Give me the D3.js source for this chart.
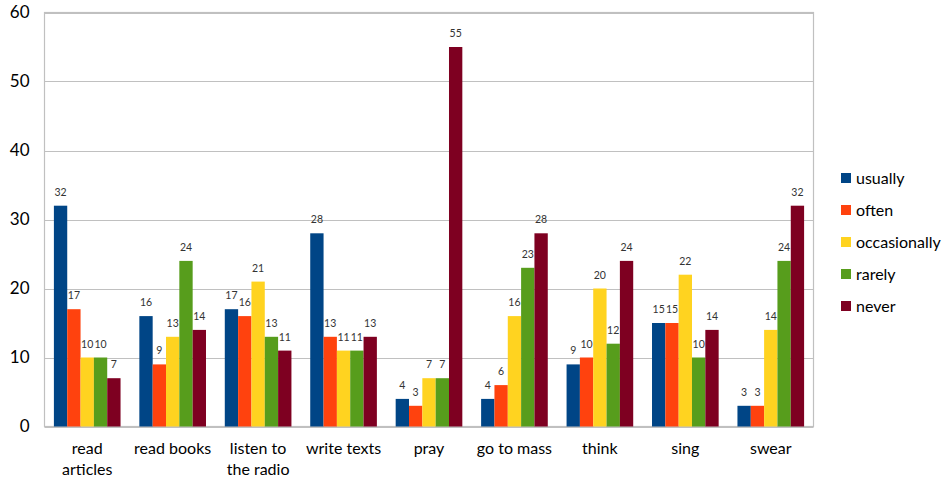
<!DOCTYPE html>
<html>
<head>
<meta charset="utf-8">
<script src="https://cdn.jsdelivr.net/npm/d3@7"></script>
<style>
  html, body { margin: 0; padding: 0; background: #fff; }
  svg { display: block; font-family: Lato, "Open Sans", sans-serif; }
</style>
</head>
<body>
<svg id="chart" width="946" height="481"></svg>
<script>
// Activities (x-axis categories), with line breaks for the axis labels
const categories = ["read articles", "read books", "listen to the radio", "write texts", "pray", "go to mass", "think", "sing", "swear"];
const categoryLines = [["read", "articles"], ["read books"], ["listen to", "the radio"], ["write texts"], ["pray"], ["go to mass"], ["think"], ["sing"], ["swear"]];

// Frequency series
const seriesNames = ["usually", "often", "occasionally", "rarely", "never"];
const usually      = [32, 16, 17, 28, 4, 4, 9, 15, 3];
const often        = [17, 9, 16, 13, 3, 6, 10, 15, 3];
const occasionally = [10, 13, 21, 11, 7, 16, 20, 22, 14];
const rarely       = [10, 24, 13, 11, 7, 23, 12, 10, 24];
const never        = [7, 14, 11, 13, 55, 28, 24, 14, 32];
const seriesValues = [usually, often, occasionally, rarely, never];
const colors = ["#004586", "#ff420e", "#ffd320", "#579d1c", "#7e0021"];

const yTicks = [0, 10, 20, 30, 40, 50, 60];

const svg = d3.select("#chart");
const plot = { left: 44.5, right: 813.5, top: 12.5, bottom: 426.5 };

const x0 = d3.scaleBand().domain(categories).range([plot.left, plot.right]).paddingInner(0.22).paddingOuter(0.11);
const x1 = d3.scaleBand().domain(seriesNames).range([0, x0.bandwidth()]);
const y = d3.scaleLinear().domain([0, 60]).range([plot.bottom, plot.top]);

// Horizontal gridlines
svg.append("g")
  .selectAll("line")
  .data(yTicks)
  .join("line")
  .attr("x1", plot.left).attr("x2", plot.right)
  .attr("y1", d => Math.round(y(d)) + 0.5).attr("y2", d => Math.round(y(d)) + 0.5)
  .attr("stroke", "#c0c0c0").attr("stroke-width", 1.2);

// Plot frame
svg.append("rect")
  .attr("x", plot.left).attr("y", plot.top)
  .attr("width", plot.right - plot.left).attr("height", plot.bottom - plot.top)
  .attr("fill", "none").attr("stroke", "#c0c0c0").attr("stroke-width", 1.2);

// Y axis labels
const yAxis = d3.axisLeft(y).tickValues(yTicks).tickSize(0).tickPadding(15);
const yg = svg.append("g").attr("transform", `translate(${plot.left},0)`).call(yAxis);
yg.select(".domain").remove();
yg.selectAll("text").attr("font-size", 17).attr("fill", "#000").attr("font-family", "Lato, sans-serif");

// Bars
const groups = svg.append("g")
  .selectAll("g")
  .data(categories)
  .join("g")
  .attr("transform", d => `translate(${x0(d)},0)`);

groups.selectAll("rect")
  .data((c, i) => seriesNames.map((s, j) => ({ s, j, v: seriesValues[j][i] })))
  .join("rect")
  .attr("x", d => x1(d.s))
  .attr("width", x1.bandwidth())
  .attr("y", d => y(d.v))
  .attr("height", d => y(0) - y(d.v))
  .attr("fill", d => colors[d.j]);

// Value labels
groups.selectAll("text")
  .data((c, i) => seriesNames.map((s, j) => ({ s, j, v: seriesValues[j][i] })))
  .join("text")
  .attr("x", d => x1(d.s) + x1.bandwidth() / 2)
  .attr("y", d => y(d.v) - 10)
  .attr("text-anchor", "middle")
  .attr("font-size", 10.5)
  .attr("fill", "#333")
  .text(d => d.v);

// Category labels
const xl = svg.append("g");
categories.forEach((c, i) => {
  const t = xl.append("text")
    .attr("x", x0(c) + x0.bandwidth() / 2)
    .attr("y", 454)
    .attr("text-anchor", "middle")
    .attr("font-size", 16)
    .attr("fill", "#000");
  categoryLines[i].forEach((line, k) => {
    t.append("tspan").attr("x", x0(c) + x0.bandwidth() / 2).attr("dy", k === 0 ? 0 : 21).text(line);
  });
});

// Legend
const legend = svg.append("g").attr("transform", "translate(841,178)");
seriesNames.forEach((s, j) => {
  const g = legend.append("g").attr("transform", `translate(0,${j * 32})`);
  g.append("rect").attr("x", 0).attr("y", -5).attr("width", 10).attr("height", 10).attr("fill", colors[j]);
  g.append("text").attr("x", 15).attr("y", 0).attr("dy", "0.35em")
    .attr("font-size", 16).attr("fill", "#000").text(s);
});
</script>
</body>
</html>
